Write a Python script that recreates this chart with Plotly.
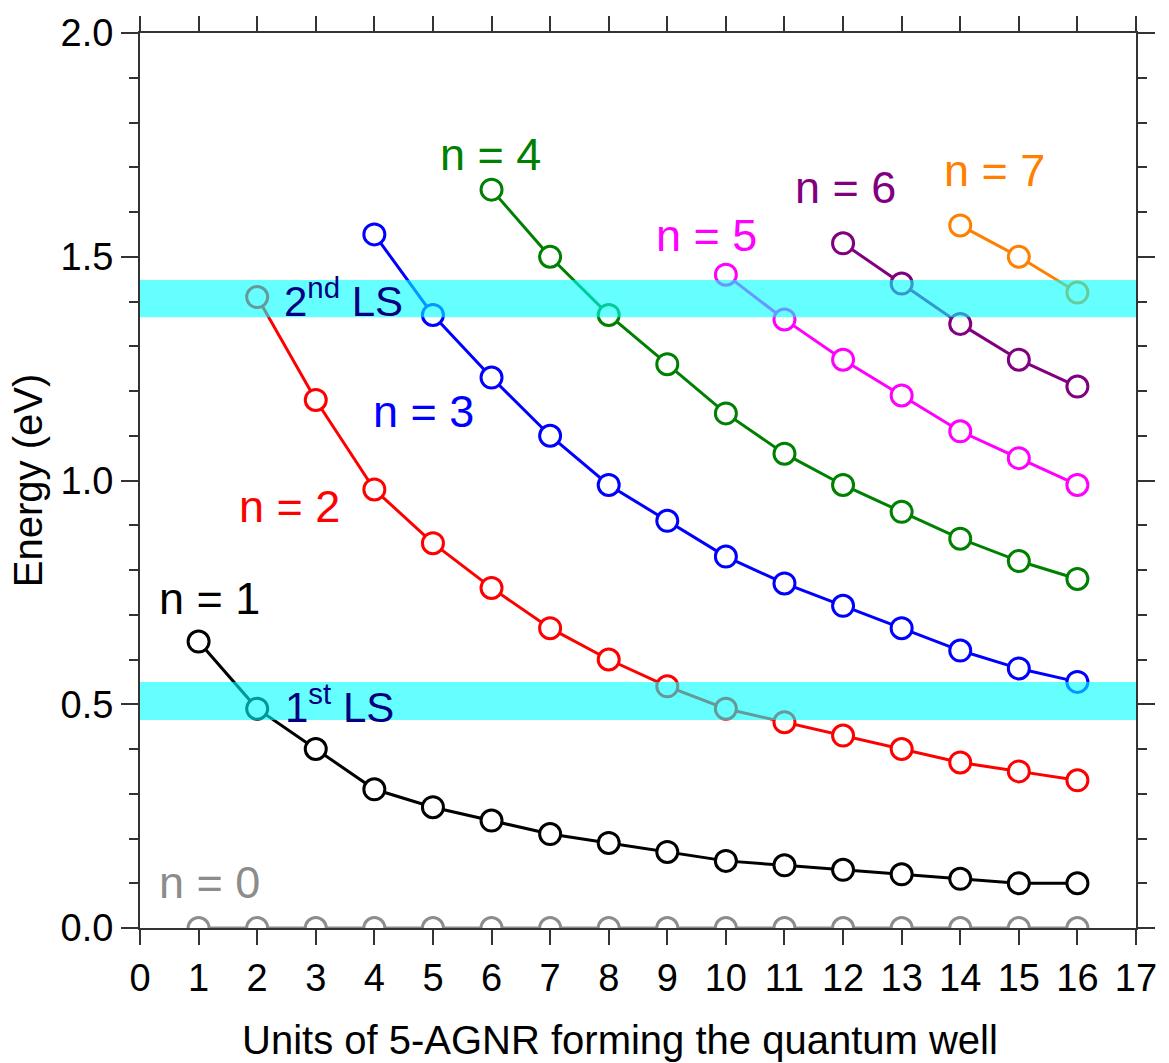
import plotly.graph_objects as go

# Quantum-well levels vs. number of 5-AGNR units
units = list(range(1, 17))

levels = {
    0: dict(start=1, color="#8c8c8c",
            energy=[0.0] * 16),
    1: dict(start=1, color="#000000",
            energy=[0.64, 0.49, 0.40, 0.31, 0.27, 0.24, 0.21, 0.19, 0.17, 0.15,
                    0.14, 0.13, 0.12, 0.11, 0.10, 0.10]),
    2: dict(start=2, color="#ff0000",
            energy=[1.41, 1.18, 0.98, 0.86, 0.76, 0.67, 0.60, 0.54, 0.49, 0.46,
                    0.43, 0.40, 0.37, 0.35, 0.33]),
    3: dict(start=4, color="#0000ff",
            energy=[1.55, 1.37, 1.23, 1.10, 0.99, 0.91, 0.83, 0.77, 0.72, 0.67,
                    0.62, 0.58, 0.55]),
    4: dict(start=6, color="#008000",
            energy=[1.65, 1.50, 1.37, 1.26, 1.15, 1.06, 0.99, 0.93, 0.87, 0.82, 0.78]),
    5: dict(start=10, color="#ff00ff",
            energy=[1.46, 1.36, 1.27, 1.19, 1.11, 1.05, 0.99]),
    6: dict(start=12, color="#800080",
            energy=[1.53, 1.44, 1.35, 1.27, 1.21]),
    7: dict(start=14, color="#ff8000",
            energy=[1.57, 1.50, 1.42]),
}

# Label positions for each level (data coordinates)
label_pos = {
    0: (1.19, 0.102),
    1: (1.19, 0.737),
    2: (2.56, 0.942),
    3: (4.84, 1.154),
    4: (5.99, 1.728),
    5: (9.67, 1.548),
    6: (12.05, 1.655),
    7: (14.59, 1.693),
}

# Localized-state energy windows
ls_bands = [
    dict(name="1<sup>st</sup> LS", y0=0.465, y1=0.55, label_x=3.40, label_y=0.50),
    dict(name="2<sup>nd</sup> LS", y0=1.365, y1=1.448, label_x=3.48, label_y=1.408),
]

FONT = "Arial, Liberation Sans, sans-serif"
AXIS_COLOR = "#333333"

fig = go.Figure()

for n, lv in levels.items():
    xs = units[lv["start"] - 1:lv["start"] - 1 + len(lv["energy"])]
    fig.add_trace(go.Scatter(
        x=xs, y=lv["energy"], mode="lines+markers",
        line=dict(color=lv["color"], width=3),
        marker=dict(symbol="circle", size=21, color="white",
                    line=dict(color=lv["color"], width=3)),
        showlegend=False, hoverinfo="x+y",
    ))
    lx, ly = label_pos[n]
    fig.add_annotation(x=lx, y=ly, text=f"n = {n}", showarrow=False,
                       font=dict(family=FONT, size=45, color=lv["color"]))

for band in ls_bands:
    fig.add_shape(type="rect", xref="x", yref="y", x0=0, x1=17,
                  y0=band["y0"], y1=band["y1"], layer="above",
                  fillcolor="rgba(0,255,255,0.6)", line=dict(width=0))
    fig.add_annotation(x=band["label_x"], y=band["label_y"], text=band["name"],
                       showarrow=False,
                       font=dict(family=FONT, size=42, color="#000080"))

# x-axis title, placed as a paper-anchored label below the tick labels
fig.add_annotation(xref="paper", yref="paper", x=0.482, y=-0.1247,
                   xanchor="center", yanchor="middle", showarrow=False,
                   text="Units of 5-AGNR forming the quantum well",
                   font=dict(family=FONT, size=40, color="black"))

fig.update_xaxes(
    range=[0, 17], tickmode="linear", tick0=0, dtick=1,
    showgrid=False, zeroline=False, showline=True, linecolor=AXIS_COLOR,
    linewidth=2, mirror="ticks", ticks="outside", ticklen=15, tickwidth=2,
    tickcolor=AXIS_COLOR, tickfont=dict(family=FONT, size=38, color="black"),
)
fig.update_yaxes(
    range=[0, 2], tickmode="linear", tick0=0, dtick=0.5, tickformat=".1f",
    showgrid=False, zeroline=False, showline=True, linecolor=AXIS_COLOR,
    linewidth=2, mirror="ticks", ticks="outside", ticklen=17, tickwidth=2,
    tickcolor=AXIS_COLOR, tickfont=dict(family=FONT, size=38, color="black"),
    minor=dict(dtick=0.1, ticks="outside", ticklen=9, tickwidth=2,
               tickcolor=AXIS_COLOR, showgrid=False),
    title=dict(text="Energy (eV)", standoff=6,
               font=dict(family=FONT, size=40, color="black")),
)

fig.update_layout(
    width=1169, height=1063,
    margin=dict(l=140, r=27, t=30, b=135),
    plot_bgcolor="white", paper_bgcolor="white",
)

fig.write_html("out.html")
